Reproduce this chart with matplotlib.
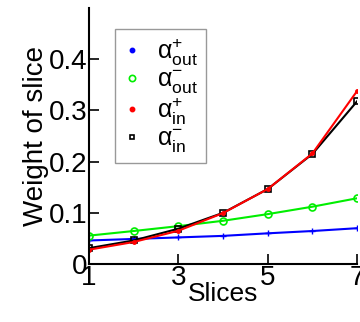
# weight of each slice for the four alpha components

import numpy as np
import matplotlib.pyplot as plt

plt.rcParams['font.family'] = ['Liberation Sans', 'DejaVu Sans']
plt.rcParams['mathtext.fontset'] = 'custom'
plt.rcParams['mathtext.rm'] = 'Liberation Sans'
plt.rcParams['mathtext.it'] = 'Liberation Sans'

# data
slices = [1, 2, 3, 4, 5, 6, 7]
a_out_plus = [0.046, 0.049, 0.052, 0.055, 0.060, 0.0645, 0.070]
a_out_minus = [0.0555, 0.0645, 0.074, 0.0845, 0.0975, 0.112, 0.1285]
a_in_plus = [0.028, 0.043, 0.065, 0.0995, 0.1465, 0.216, 0.338]
a_in_minus = [0.031, 0.046, 0.069, 0.100, 0.1465, 0.215, 0.318]

fig = plt.figure(figsize=(3.6, 3.22), dpi=100)
ax = fig.add_axes([0.247, 0.18, 0.745, 0.795])

ax.plot(slices, a_out_plus, color='blue', marker='+', ms=4, mew=1, lw=1.5,
        label=r'$\mathrm{\alpha^{+}_{out}}$')
ax.plot(slices, a_out_minus, color='#00ee00', marker='o', ms=5, mfc='none',
        mew=1.2, lw=1.5, label=r'$\mathrm{\alpha^{-}_{out}}$')
ax.plot(slices, a_in_minus, color='black', marker='s', ms=5, mfc='none',
        mew=1.2, lw=1.5, label=r'$\mathrm{\alpha^{-}_{in}}$')
ax.plot(slices, a_in_plus, color='red', marker='o', ms=2.5, lw=1.5,
        label=r'$\mathrm{\alpha^{+}_{in}}$')

# design
ax.set_xlim(1, 7)
ax.set_ylim(0, 0.5)
ax.set_xticks([1, 3, 5, 7])
ax.set_yticks([0, 0.1, 0.2, 0.3, 0.4])
ax.set_yticklabels(['0', '0.1', '0.2', '0.3', '0.4'])
ax.tick_params(direction='in', length=7, width=1.2, labelsize=20, pad=1)
ax.spines['top'].set_visible(False)
ax.spines['right'].set_visible(False)
for s in ['left', 'bottom']:
    ax.spines[s].set_linewidth(1.5)
ax.set_xlabel('Slices', fontsize=19, labelpad=-7)
ax.set_ylabel('Weight of slice', fontsize=20, labelpad=0)

handles, labels = ax.get_legend_handles_labels()
order = [0, 1, 3, 2]
leg = ax.legend([plt.Line2D([], [], ls='none', marker=m, color=c, ms=s, mfc=f, mew=1.2)
                 for m, c, s, f in [('o', 'blue', 3, 'blue'), ('o', '#00ee00', 4.5, 'none'),
                                    ('o', 'red', 3, 'red'), ('s', 'black', 3.5, 'none')]],
                [labels[i] for i in order], loc='upper left',
                bbox_to_anchor=(0.097, 0.918), fontsize=18, frameon=True,
                fancybox=False, edgecolor='gray', handlelength=0.8,
                handletextpad=0.6, labelspacing=0.0, borderpad=0.3,
                borderaxespad=0)
leg.get_frame().set_linewidth(1)

fig.savefig('out.png', dpi=100)
